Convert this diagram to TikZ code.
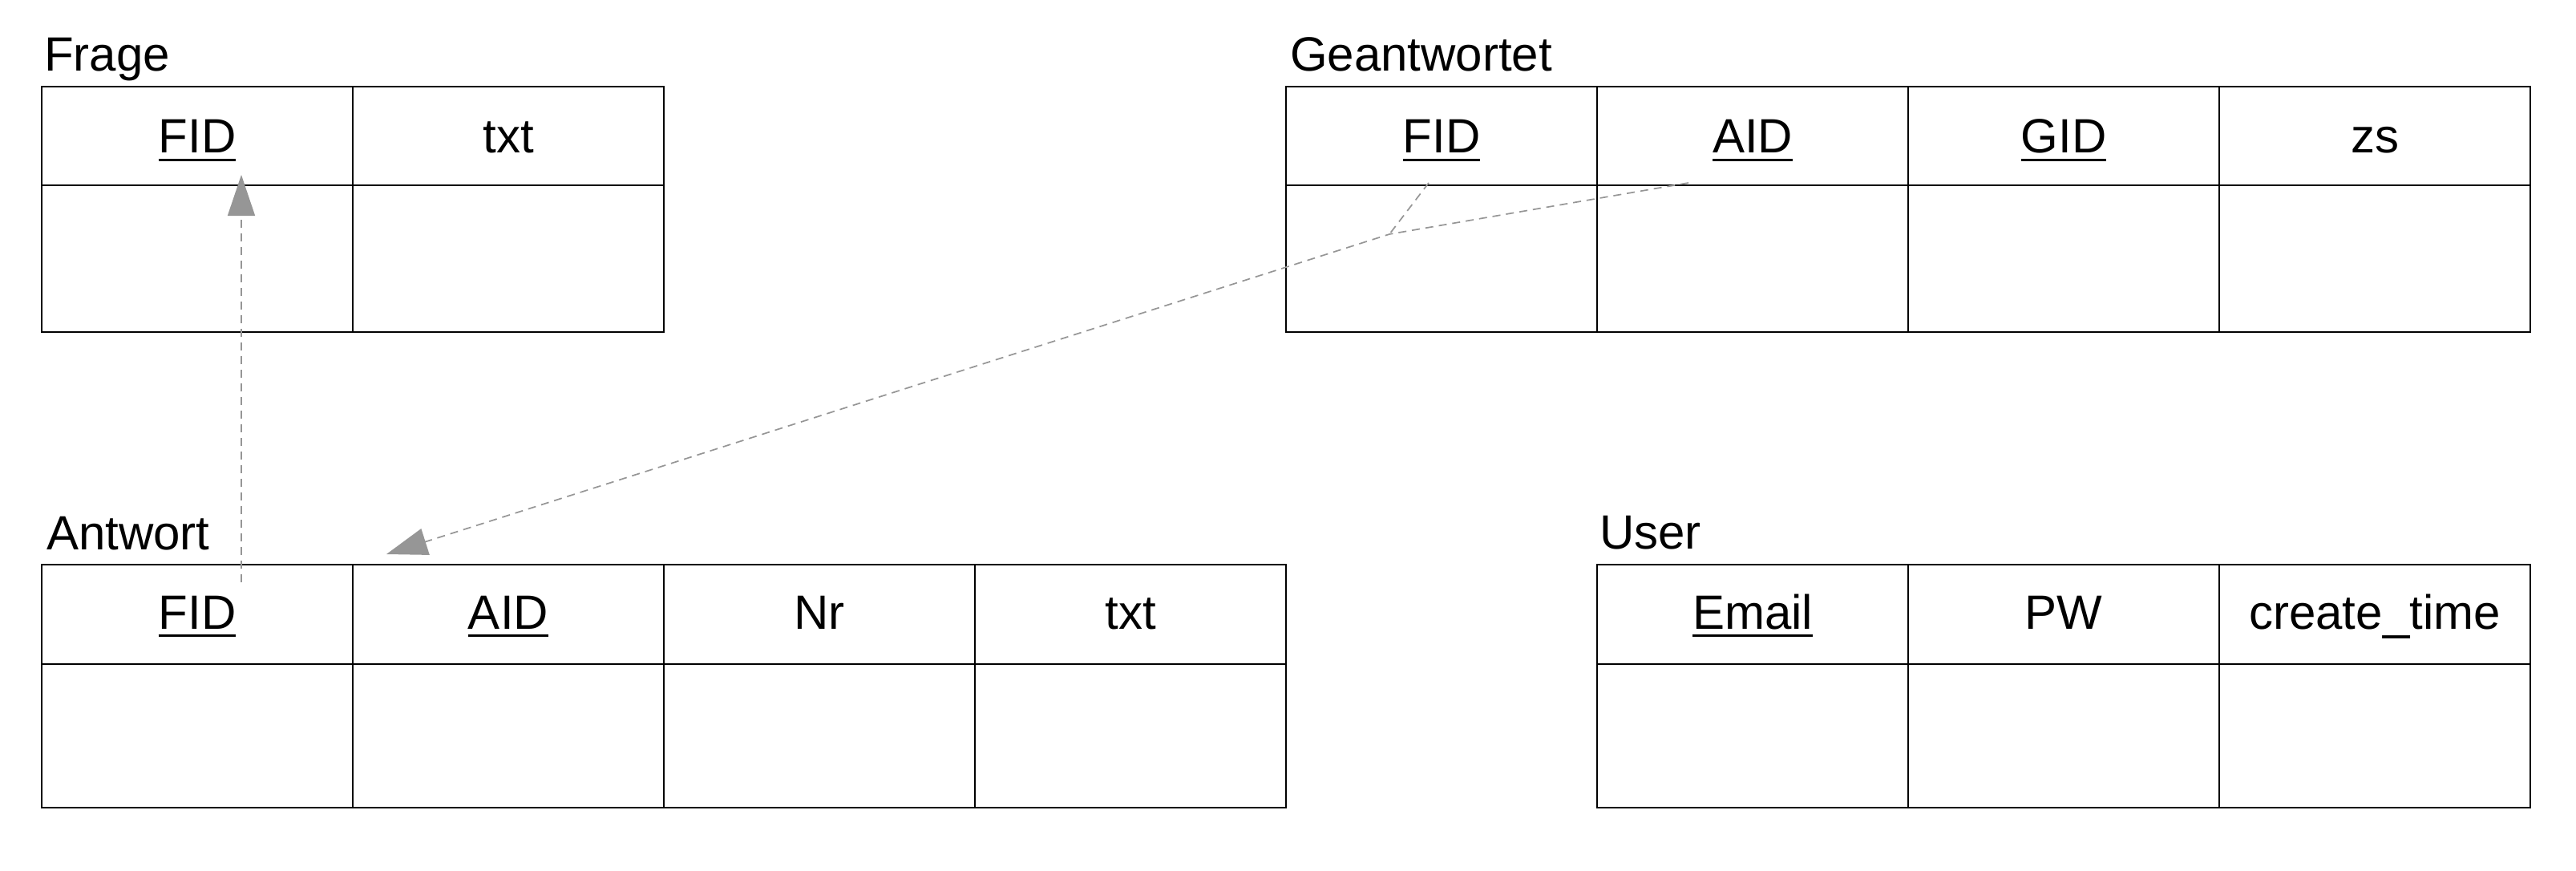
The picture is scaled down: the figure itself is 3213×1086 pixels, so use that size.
\documentclass[tikz,border=0pt]{standalone}
\usepackage{fontspec}
\setmainfont{Liberation Sans}
\usetikzlibrary{arrows.meta}
\definecolor{conncol}{RGB}{150,150,150}
\newcommand\pkey[1]{\setbox0\hbox{#1}\rlap{\rule[-10.2pt]{\wd0}{3.3pt}}\box0}
\begin{document}
\begin{tikzpicture}[x=1pt,y=-1pt,
  font=\fontsize{60pt}{72pt}\selectfont,
  cell/.style={draw=black, line width=2.2pt, minimum width=388pt, inner sep=0pt, outer sep=0pt, anchor=north west},
  headtop/.style={cell, minimum height=123pt, text height=43pt, text depth=0pt},
  headbot/.style={cell, minimum height=124pt, text height=43pt, text depth=7pt},
  bodytop/.style={cell, minimum height=183pt},
  bodybot/.style={cell, minimum height=179pt},
  title/.style={inner sep=0pt, outer sep=0pt, anchor=base west},
  fk/.style={draw=conncol, line width=1.7pt, dash pattern=on 10pt off 7pt},
  fktip/.style={-{Triangle[length=51pt,width=34pt,fill=conncol]}}]
\useasboundingbox (0,0) rectangle (3213,1086);

% ---- Frage
\node[title] (lFrage) at (55,89) {Frage};
\node[headtop] (fFID) at (52,108) {\pkey{FID}};
\node[headtop] (ftxt) at (440,108) {txt};
\node[bodytop] (fb1) at (52,231) {};
\node[bodytop] (fb2) at (440,231) {};

% ---- Geantwortet
\node[title] (lGeant) at (1609,88.3) {Geantwortet};
\node[headtop] (gFID) at (1604,108) {\pkey{FID}};
\node[headtop] (gAID) at (1992,108) {\pkey{AID}};
\node[headtop] (gGID) at (2380,108) {\pkey{GID}};
\node[headtop] (gzs) at (2768,108) {zs};
\node[bodytop] (gb1) at (1604,231) {};
\node[bodytop] (gb2) at (1992,231) {};
\node[bodytop] (gb3) at (2380,231) {};
\node[bodytop] (gb4) at (2768,231) {};

% ---- Antwort
\node[title] (lAntw) at (58,685) {Antwort};
\node[headbot] (aFID) at (52,704) {\pkey{FID}};
\node[headbot] (aAID) at (440,704) {\pkey{AID}};
\node[headbot] (aNr) at (828,704) {Nr};
\node[headbot] (atxt) at (1216,704) {txt};
\node[bodybot] (ab1) at (52,828) {};
\node[bodybot] (ab2) at (440,828) {};
\node[bodybot] (ab3) at (828,828) {};
\node[bodybot] (ab4) at (1216,828) {};

% ---- User
\node[title] (lUser) at (1995,684.5) {User};
\node[headbot] (uEmail) at (1992,704) {\pkey{Email}};
\node[headbot] (uPW) at (2380,704) {PW};
\node[headbot] (utime) at (2768,704) {create\_time};
\node[bodybot] (ub1) at (1992,828) {};
\node[bodybot] (ub2) at (2380,828) {};
\node[bodybot] (ub3) at (2768,828) {};

% ---- connector end points
\coordinate (aFIDsrc) at (301,726);
\coordinate (fFIDtip) at (301,218);
\coordinate (gFIDsrc) at (1782,228);
\coordinate (gAIDsrc) at (2106,228);
\coordinate (join) at (1733,292);
\coordinate (aAIDtip) at (482,691);

% ---- connectors
\draw[fk, fktip] (aFIDsrc) -- (fFIDtip);
\draw[fk] (gFIDsrc) -- (join);
\draw[fk, fktip] (gAIDsrc) -- (join) -- (aAIDtip);
\end{tikzpicture}
\end{document}
